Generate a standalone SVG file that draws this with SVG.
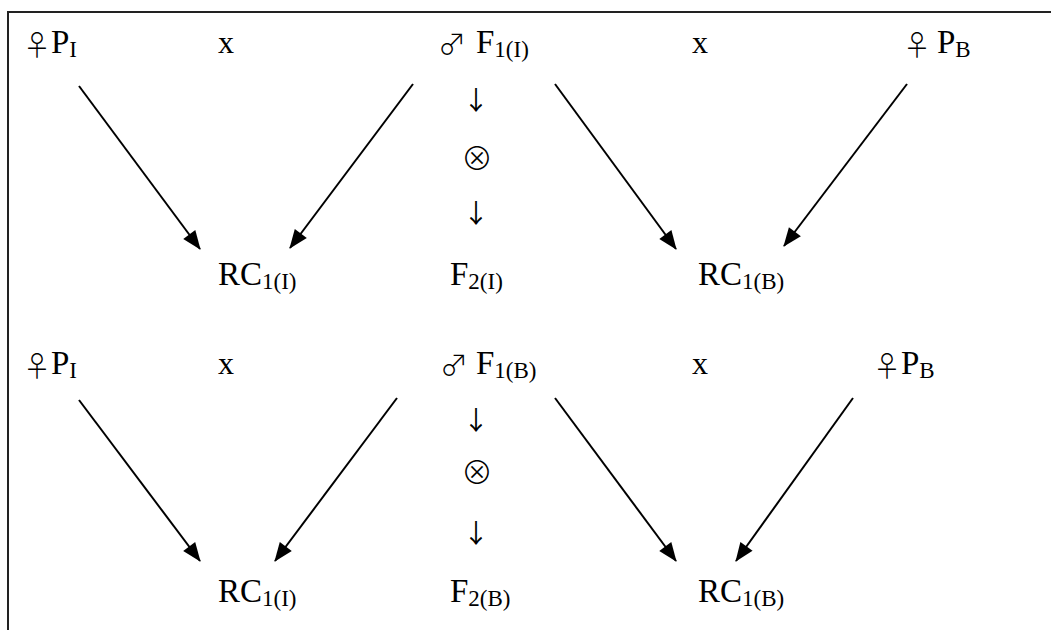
<svg xmlns="http://www.w3.org/2000/svg" width="1051" height="630" viewBox="0 0 1051 630">
<style>
text{font-family:"Liberation Serif","Times New Roman",serif;fill:#000}
.t{font-size:33px}
.s{font-size:23px}
.sym{font-family:"Noto Sans CJK JP","DejaVu Sans",sans-serif;font-size:28px;font-weight:300;text-anchor:middle}
.op{font-family:"Noto Sans CJK JP","DejaVu Sans",sans-serif;font-size:26px;text-anchor:middle}
.ot{font-family:"Noto Sans CJK JP","DejaVu Sans",sans-serif;font-size:32px;font-weight:300;text-anchor:middle}
.x{font-size:32px;text-anchor:middle}
.c{stroke:#000;stroke-width:2;fill:none;marker-end:url(#ah)}
</style>
<defs>
<marker id="ah" viewBox="0 0 19 15" refX="18" refY="7.5" markerWidth="19" markerHeight="15" markerUnits="userSpaceOnUse" orient="auto" overflow="visible">
<path d="M0,0 L19,7.5 L0,15 z" fill="#000"/>
</marker>
</defs>
<rect width="1051" height="630" fill="#fff"/>
<path d="M8,630 V12 H1051" stroke="#222" stroke-width="2" fill="none"/>

<g id="row1">
<g id="p1"><text x="37" y="56" class="sym">♀</text><text x="51" y="53" class="t">P<tspan class="s" dy="4">I</tspan></text></g>
<g id="x1"><text x="226" y="53" class="x">x</text></g>
<g id="f1i"><text x="452" y="55" class="sym">♂</text><text x="476" y="53" class="t">F<tspan class="s" dy="4">1(I)</tspan></text></g>
<g id="x2"><text x="700" y="53" class="x">x</text></g>
<g id="pb1"><text x="917" y="56" class="sym">♀</text><text x="937" y="53" class="t">P<tspan class="s" dy="4">B</tspan></text></g>
<g id="self1"><text x="476" y="110" class="op">↓</text><text x="477" y="170" class="ot">⊗</text><text x="476" y="223" class="op">↓</text></g>
<g id="rc1i"><text x="218" y="285" class="t">RC<tspan class="s" dy="4">1(I)</tspan></text></g>
<g id="f2i"><text x="450" y="285" class="t">F<tspan class="s" dy="4">2(I)</tspan></text></g>
<g id="rc1b"><text x="698" y="285" class="t">RC<tspan class="s" dy="4">1(B)</tspan></text></g>
</g>

<g id="row2">
<g id="p2"><text x="37" y="377" class="sym">♀</text><text x="51" y="374" class="t">P<tspan class="s" dy="4">I</tspan></text></g>
<g id="x3"><text x="226" y="374" class="x">x</text></g>
<g id="f1b"><text x="454" y="376" class="sym">♂</text><text x="476" y="374" class="t">F<tspan class="s" dy="4">1(B)</tspan></text></g>
<g id="x4"><text x="700" y="374" class="x">x</text></g>
<g id="pb2"><text x="887" y="377" class="sym">♀</text><text x="901" y="374" class="t">P<tspan class="s" dy="4">B</tspan></text></g>
<g id="self2"><text x="476" y="430" class="op">↓</text><text x="477" y="484" class="ot">⊗</text><text x="476" y="543" class="op">↓</text></g>
<g id="rc1i2"><text x="218" y="602" class="t">RC<tspan class="s" dy="4">1(I)</tspan></text></g>
<g id="f2b"><text x="450" y="602" class="t">F<tspan class="s" dy="4">2(B)</tspan></text></g>
<g id="rc1b2"><text x="698" y="602" class="t">RC<tspan class="s" dy="4">1(B)</tspan></text></g>
</g>

<g id="connectors">
<line class="c" x1="79" y1="86" x2="200" y2="249"/>
<line class="c" x1="413" y1="84" x2="290" y2="248"/>
<line class="c" x1="555" y1="84" x2="676" y2="249"/>
<line class="c" x1="907" y1="84" x2="784" y2="246"/>
<line class="c" x1="79" y1="400" x2="200" y2="561"/>
<line class="c" x1="397" y1="398" x2="275" y2="561"/>
<line class="c" x1="555" y1="398" x2="676" y2="561"/>
<line class="c" x1="853" y1="398" x2="736" y2="561"/>
</g>
</svg>
